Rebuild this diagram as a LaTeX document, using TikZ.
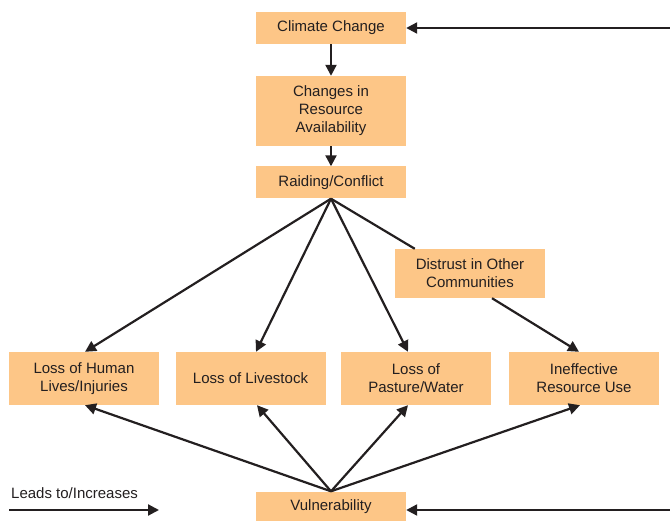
\documentclass[tikz,border=0pt]{standalone}
\usepackage{fontspec}
\setmainfont{Liberation Sans}
\usetikzlibrary{arrows.meta}
\definecolor{boxfill}{RGB}{253,198,135}
\definecolor{ink}{RGB}{35,31,32}
\begin{document}
\begin{tikzpicture}[x=1pt,y=-1pt,
		box/.style={fill=boxfill, text=ink, minimum width=150pt, minimum height=32pt,
			align=center, inner sep=0pt, font=\fontsize{15}{18}\selectfont},
		lead/.style={draw=ink, line width=2.2pt, -{Triangle[length=11pt,width=11pt]}},
		link/.style={draw=ink, line width=2.2pt}]
		\useasboundingbox (0,0) rectangle (670,521);
		% top chain
		\node[box] (climate) at (331,28) {Climate Change};
		\node[box, minimum height=70pt] (changes) at (331,111) {Changes in\\Resource\\Availability};
		\node[box] (raiding) at (331,182.5) {Raiding/Conflict};
		\node[box, minimum height=49pt] (distrust) at (470,273.5) {Distrust in Other\\Communities};
		% losses
		\node[box, minimum height=53pt] (human) at (84,378.5) {Loss of Human\\Lives/Injuries};
		\node[box, minimum height=53pt] (livestock) at (250.5,378.5) {Loss of Livestock};
		\node[box, minimum height=53pt] (pasture) at (416,378.5) {Loss of\\Pasture/Water};
		\node[box, minimum height=53pt] (ineffective) at (584,378.5) {Ineffective\\Resource Use};
		\node[box, minimum height=30pt] (vuln) at (331,506.5) {Vulnerability};
		% legend
		\node[text=ink, font=\fontsize{15}{18}\selectfont, anchor=base west, inner sep=0pt] (legend) at (11,498) {Leads to/Increases};
		\coordinate (legendstart) at (9,510);
		\coordinate (legendend) at (159,510);
		\coordinate (feedtop) at (670,28);
		\coordinate (feedbottom) at (670,510);
		\draw[lead] (legendstart) -- (legendend);
		\draw[lead] (feedtop) -- (climate.east);
		\draw[lead] (feedbottom) -- (vuln.east |- feedbottom);
		\draw[lead] (climate) -- (changes);
		\draw[lead] (changes) -- (raiding);
		\draw[lead] (raiding.south) -- ([xshift=1pt]human.north);
		\draw[lead] (raiding.south) -- ([xshift=5.5pt]livestock.north);
		\draw[lead] (raiding.south) -- ([xshift=-8pt]pasture.north);
		\draw[link] (raiding.south) -- ([xshift=20pt]distrust.north west);
		\draw[lead] ([xshift=22pt]distrust.south) -- ([xshift=-5pt]ineffective.north);
		\draw[lead] (vuln.north) -- ([xshift=1pt]human.south);
		\draw[lead] (vuln.north) -- ([xshift=6.5pt]livestock.south);
		\draw[lead] (vuln.north) -- ([xshift=-8pt]pasture.south);
		\draw[lead] (vuln.north) -- ([xshift=-4pt]ineffective.south);
\end{tikzpicture}
\end{document}
